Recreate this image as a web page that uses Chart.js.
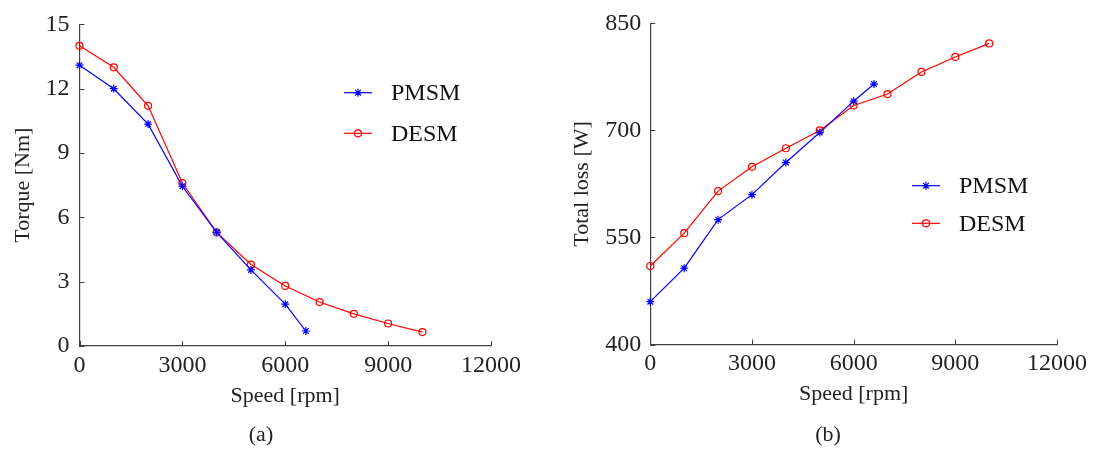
<!DOCTYPE html>
<html>
<head>
<meta charset="utf-8">
<script src="https://cdn.jsdelivr.net/npm/chart.js"></script>
<style>
  body { margin: 0; background: #fff; }
  .wrap { position: relative; width: 1104px; height: 451px; }
  .box { position: absolute; top: 0; width: 552px; height: 451px; }
  .cap { position: absolute; top: 421px; font: 22px/26px "Liberation Serif", serif; color: #222; transform: translateX(-50%); }
</style>
</head>
<body>
<div class="wrap">
  <div class="box" style="left:0"><canvas id="chartA"></canvas></div>
  <div class="box" style="left:552px"><canvas id="chartB"></canvas></div>
  <div class="cap" style="left:261px">(a)</div>
  <div class="cap" style="left:828px">(b)</div>
</div>
<script>
// speeds [rpm]
const speedPmsm = [0, 1000, 2000, 3000, 4000, 5000, 6000, 6600];
const speedDesm = [0, 1000, 2000, 3000, 4000, 5000, 6000, 7000, 8000, 9000, 10000];

// (a) torque [Nm]
const torquePmsm = [13.1, 12.0, 10.35, 7.45, 5.3, 3.55, 1.95, 0.7];
const torqueDesm = [14.0, 13.0, 11.2, 7.6, 5.3, 3.8, 2.8, 2.05, 1.5, 1.05, 0.65];

// (b) total loss [W]
const lossPmsm = [460, 507, 575, 610, 655, 697, 741, 765];
const lossDesm = [510, 556, 615, 649, 675, 700, 735, 751, 782, 803, 822];

const speedTicks = [0, 3000, 6000, 9000, 12000];
const torqueTicks = [0, 3, 6, 9, 12, 15];
const lossTicks = [400, 550, 700, 850];

Chart.defaults.font.family = '"Liberation Serif", serif';
Chart.defaults.font.size = 22;
Chart.defaults.color = '#222';

const axisColor = '#404040';

function toPoints(xs, ys) {
  return xs.map((x, i) => ({ x: x, y: ys[i] }));
}

// small tick marks pointing into the plot, like the original
const innerTicks = {
  id: 'innerTicks',
  afterDraw(chart) {
    const ctx = chart.ctx;
    const xs = chart.scales.x;
    const ys = chart.scales.y;
    ctx.save();
    ctx.strokeStyle = axisColor;
    ctx.lineWidth = 1;
    xs.ticks.forEach(t => {
      const px = Math.round(xs.getPixelForValue(t.value)) + 0.5;
      ctx.beginPath();
      ctx.moveTo(px, xs.top);
      ctx.lineTo(px, xs.top - 5);
      ctx.stroke();
    });
    ys.ticks.forEach(t => {
      const py = Math.round(ys.getPixelForValue(t.value)) + 0.5;
      ctx.beginPath();
      ctx.moveTo(ys.right, py);
      ctx.lineTo(ys.right + 5, py);
      ctx.stroke();
    });
    ctx.restore();
  }
};

function drawMarker(ctx, style, x, y, r) {
  ctx.beginPath();
  if (style === 'star') {
    ctx.moveTo(x - r, y); ctx.lineTo(x + r, y);
    ctx.moveTo(x, y - r); ctx.lineTo(x, y + r);
    const d = r * 0.707;
    ctx.moveTo(x - d, y - d); ctx.lineTo(x + d, y + d);
    ctx.moveTo(x - d, y + d); ctx.lineTo(x + d, y - d);
  } else {
    ctx.arc(x, y, r, 0, Math.PI * 2);
  }
  ctx.stroke();
}

// legend placed inside the plot
const boxLegend = {
  id: 'boxLegend',
  afterDraw(chart, args, opts) {
    const ctx = chart.ctx;
    ctx.save();
    ctx.font = '24px "Liberation Serif", serif';
    ctx.textBaseline = 'middle';
    chart.data.datasets.forEach((ds, i) => {
      const y = opts.y[i];
      ctx.strokeStyle = ds.borderColor;
      ctx.lineWidth = 1.2;
      ctx.beginPath();
      ctx.moveTo(opts.x, y);
      ctx.lineTo(opts.x + 28, y);
      ctx.stroke();
      drawMarker(ctx, ds.pointStyle, opts.x + 14, y, ds.pointRadius);
      ctx.fillStyle = '#111';
      ctx.fillText(ds.label, opts.textX, y + 1);
    });
    ctx.restore();
  }
};

function makeChart(id, pmsm, desm, yTicks, yTitle, lay) {
  return new Chart(document.getElementById(id), {
    type: 'line',
    data: {
      datasets: [{
        label: 'PMSM',
        data: toPoints(speedPmsm, pmsm),
        borderColor: '#0000ff',
        backgroundColor: 'rgba(0,0,0,0)',
        borderWidth: 1.2,
        pointStyle: 'star',
        pointRadius: 4,
        pointBorderWidth: 1.2,
        clip: false
      }, {
        label: 'DESM',
        data: toPoints(speedDesm, desm),
        borderColor: '#ff0000',
        backgroundColor: 'rgba(0,0,0,0)',
        borderWidth: 1.2,
        pointStyle: 'circle',
        pointRadius: 3.5,
        pointBorderWidth: 1.2,
        clip: false
      }]
    },
    options: {
      responsive: true,
      maintainAspectRatio: false,
      animation: false,
      layout: {
        padding: { left: 0, top: 21, right: lay.right, bottom: lay.bottom }
      },
      plugins: {
        legend: { display: false },
        tooltip: { enabled: false },
        boxLegend: { x: lay.legX, textX: lay.legX + 47, y: lay.legY }
      },
      scales: {
        x: {
          type: 'linear',
          min: speedTicks[0],
          max: speedTicks[speedTicks.length - 1],
          afterBuildTicks(scale) { scale.ticks = speedTicks.map(v => ({ value: v })); },
          ticks: { padding: 5, maxRotation: 0, font: { size: 24 }, callback: v => String(v) },
          grid: { display: false, drawTicks: false },
          border: { display: true, color: axisColor, width: 1.2 },
          title: { display: true, text: 'Speed [rpm]', padding: { top: 0, bottom: 3 } },
          afterFit(scale) { scale.height = 66; }
        },
        y: {
          type: 'linear',
          min: yTicks[0],
          max: yTicks[yTicks.length - 1],
          afterBuildTicks(scale) { scale.ticks = yTicks.map(v => ({ value: v })); },
          ticks: { padding: lay.yPad, font: { size: 24 }, callback: v => String(v) },
          grid: { display: false, drawTicks: false },
          border: { display: true, color: axisColor, width: 1.2 },
          title: { display: true, text: yTitle, padding: { top: lay.titlePad, bottom: 0 } },
          afterFit(scale) { scale.width = lay.yWidth; }
        }
      }
    },
    plugins: [innerTicks, boxLegend]
  });
}

makeChart('chartA', torquePmsm, torqueDesm, torqueTicks, 'Torque [Nm]',
  { right: 61, bottom: 39, yWidth: 79.5, yPad: 10, titlePad: 10, legX: 344, legY: [92.7, 133.3] });

makeChart('chartB', lossPmsm, lossDesm, lossTicks, 'Total loss [W]',
  { right: 47, bottom: 40.5, yWidth: 98.3, yPad: 9, titlePad: 17, legX: 360, legY: [185.7, 223.3] });
</script>
</body>
</html>
